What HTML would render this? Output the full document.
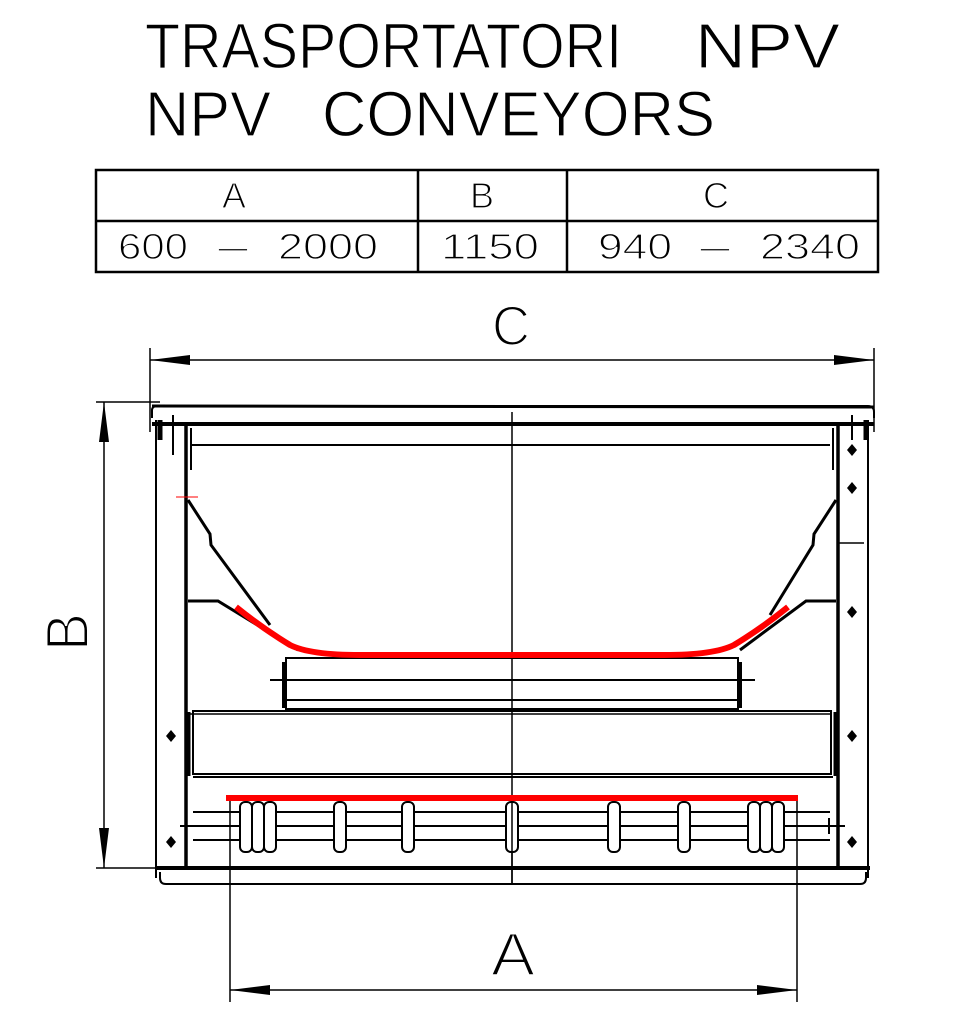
<!DOCTYPE html>
<html><head><meta charset="utf-8"><style>
html,body{margin:0;padding:0;background:#fff;}
svg{display:block;}
text{font-family:"Liberation Sans",sans-serif;fill:#000;stroke:#fff;stroke-width:1.2;}
</style></head><body>
<svg width="976" height="1024" viewBox="0 0 976 1024" xmlns="http://www.w3.org/2000/svg">
<!-- Title -->
<g font-size="64" style="stroke-width:2">
<text x="145" y="68" textLength="477" lengthAdjust="spacingAndGlyphs">TRASPORTATORI</text>
<text x="695" y="68" textLength="145" lengthAdjust="spacingAndGlyphs">NPV</text>
<text x="145" y="136" textLength="126" lengthAdjust="spacingAndGlyphs">NPV</text>
<text x="322" y="136" textLength="393" lengthAdjust="spacingAndGlyphs">CONVEYORS</text>
</g>
<!-- Table -->
<g fill="none" stroke="#000" stroke-width="2.5">
<rect x="96" y="170" width="782" height="102"/>
<line x1="96" y1="221" x2="878" y2="221"/>
<line x1="418" y1="170" x2="418" y2="272"/>
<line x1="567" y1="170" x2="567" y2="272"/>
</g>
<g font-size="36" text-anchor="middle">
<text x="234" y="208">A</text>
<text x="482" y="208">B</text>
<text x="716" y="208">C</text>
</g>
<g font-size="36">
<text x="118" y="259" textLength="70" lengthAdjust="spacingAndGlyphs">600</text>
<text x="218" y="259" textLength="30" lengthAdjust="spacingAndGlyphs">–</text>
<text x="278" y="259" textLength="100" lengthAdjust="spacingAndGlyphs">2000</text>
<text x="441" y="259" textLength="98" lengthAdjust="spacingAndGlyphs">1150</text>
<text x="598" y="259" textLength="74" lengthAdjust="spacingAndGlyphs">940</text>
<text x="700" y="259" textLength="30" lengthAdjust="spacingAndGlyphs">–</text>
<text x="760" y="259" textLength="100" lengthAdjust="spacingAndGlyphs">2340</text>
</g>
<!-- Dimension labels -->
<text x="511" y="345" font-size="56" text-anchor="middle" textLength="38" lengthAdjust="spacingAndGlyphs" style="stroke-width:2">C</text>
<text x="513" y="975" font-size="60" text-anchor="middle" textLength="44" lengthAdjust="spacingAndGlyphs" style="stroke-width:2">A</text>
<text transform="translate(88,632) rotate(-90)" font-size="60" text-anchor="middle" textLength="38" lengthAdjust="spacingAndGlyphs" style="stroke-width:2">B</text>

<g fill="none" stroke="#000" stroke-width="1.5">
<line x1="150" y1="348" x2="150" y2="432"/>
<line x1="874" y1="348" x2="874" y2="432"/>
<line x1="150" y1="360" x2="874" y2="360"/>
<line x1="96" y1="402" x2="160" y2="402"/>
<line x1="96" y1="868" x2="160" y2="868"/>
<line x1="104" y1="402" x2="104" y2="868"/>
<line x1="230" y1="795" x2="230" y2="1002"/>
<line x1="797" y1="795" x2="797" y2="1002"/>
<line x1="230" y1="990" x2="797" y2="990"/>
<line x1="512" y1="412" x2="512" y2="885"/>
</g>
<g fill="#000">
<polygon points="150,360 190,355 190,365"/>
<polygon points="874,360 834,355 834,365"/>
<polygon points="104,402 99,442 109,442"/>
<polygon points="104,868 99,828 109,828"/>
<polygon points="230,990 270,985 270,995"/>
<polygon points="797,990 757,985 757,995"/>
</g>

<!-- Frame -->
<g fill="none" stroke="#000">
<path d="M152,418 L152,410 Q152,406 158,406 L868,406 Q874,406 874,412 L874,418" stroke-width="2"/>
<line x1="152" y1="406" x2="874" y2="407" stroke-width="3"/>
<line x1="152" y1="424" x2="874" y2="424" stroke-width="4"/>
<line x1="190" y1="445" x2="830" y2="445" stroke-width="2"/>
<line x1="156" y1="420" x2="156" y2="878" stroke-width="2"/>
<line x1="186" y1="425" x2="186" y2="868" stroke-width="3.5"/>
<line x1="191" y1="428" x2="191" y2="470" stroke-width="2"/>
<line x1="833" y1="428" x2="833" y2="470" stroke-width="2"/>
<line x1="838" y1="425" x2="838" y2="868" stroke-width="3.5"/>
<line x1="868" y1="420" x2="868" y2="878" stroke-width="2"/>
<line x1="155" y1="868" x2="870" y2="868" stroke-width="4"/>
<path d="M160,872 L160,878 Q160,884 166,884 L860,884 Q866,884 866,878 L866,872" stroke-width="2"/>
<line x1="160" y1="420" x2="160" y2="440" stroke-width="5"/>
<line x1="866" y1="420" x2="866" y2="440" stroke-width="5"/>
<line x1="173" y1="415" x2="173" y2="455" stroke-width="2"/>
<line x1="852" y1="415" x2="852" y2="440" stroke-width="2"/>
<line x1="838" y1="543" x2="864" y2="543" stroke-width="1.5"/>

<path d="M188,500 L210,534 L211,545 L270,625" stroke-width="3"/>
<path d="M188,601 L218,601 L298,650" stroke-width="3"/>
<path d="M836,500 L814,534 L813,545 L770,615" stroke-width="3"/>
<path d="M836,601 L806,601 L740,650" stroke-width="3"/>

<rect x="286" y="658" width="452" height="51" stroke-width="2"/>
<line x1="270" y1="680" x2="755" y2="680" stroke-width="2"/>
<line x1="286" y1="700" x2="738" y2="700" stroke-width="2"/>
<line x1="284" y1="662" x2="284" y2="708" stroke-width="4"/>
<line x1="740" y1="662" x2="740" y2="708" stroke-width="4"/>

<rect x="193" y="711" width="638" height="63" stroke-width="2"/>
<line x1="187" y1="714" x2="831" y2="714" stroke-width="1.5"/>
<line x1="193" y1="777" x2="833" y2="777" stroke-width="2"/>
<line x1="189" y1="712" x2="189" y2="776" stroke-width="3"/>
<line x1="835" y1="712" x2="835" y2="776" stroke-width="3"/>

<line x1="193" y1="812" x2="830" y2="812" stroke-width="2"/>
<line x1="180" y1="826" x2="845" y2="826" stroke-width="2"/>
<line x1="193" y1="840" x2="830" y2="840" stroke-width="2"/>
<line x1="829" y1="818" x2="829" y2="834" stroke-width="2"/>
</g>

<g fill="#fff" stroke="#000" stroke-width="2">
<rect x="240" y="802" width="12" height="50" rx="5"/>
<rect x="252" y="802" width="12" height="50" rx="5"/>
<rect x="264" y="802" width="12" height="50" rx="5"/>
<rect x="334" y="802" width="12" height="50" rx="5"/>
<rect x="402" y="802" width="12" height="50" rx="5"/>
<rect x="506" y="802" width="12" height="50" rx="5"/>
<rect x="608" y="802" width="12" height="50" rx="5"/>
<rect x="678" y="802" width="12" height="50" rx="5"/>
<rect x="748" y="802" width="12" height="50" rx="5"/>
<rect x="760" y="802" width="12" height="50" rx="5"/>
<rect x="772" y="802" width="12" height="50" rx="5"/>
</g>
<line x1="512" y1="800" x2="512" y2="885" stroke="#000" stroke-width="1.5"/>

<path d="M236,607 Q262,628 290,645 Q310,655 360,655 L664,655 Q714,655 734,645 Q762,628 788,607" fill="none" stroke="#f00" stroke-width="6"/>
<line x1="226" y1="798" x2="798" y2="798" stroke="#f00" stroke-width="6"/>
<line x1="176" y1="497" x2="198" y2="497" stroke="#f00" stroke-width="1"/>

<g fill="#000">
<polygon points="852,444 857,450 852,456 847,450"/>
<polygon points="852,482 857,488 852,494 847,488"/>
<polygon points="852,606 857,612 852,618 847,612"/>
<polygon points="852,730 857,736 852,742 847,736"/>
<polygon points="852,836 857,842 852,848 847,842"/>
<polygon points="171,730 176,736 171,742 166,736"/>
<polygon points="171,836 176,842 171,848 166,842"/>
</g>
</svg>
</body></html>
